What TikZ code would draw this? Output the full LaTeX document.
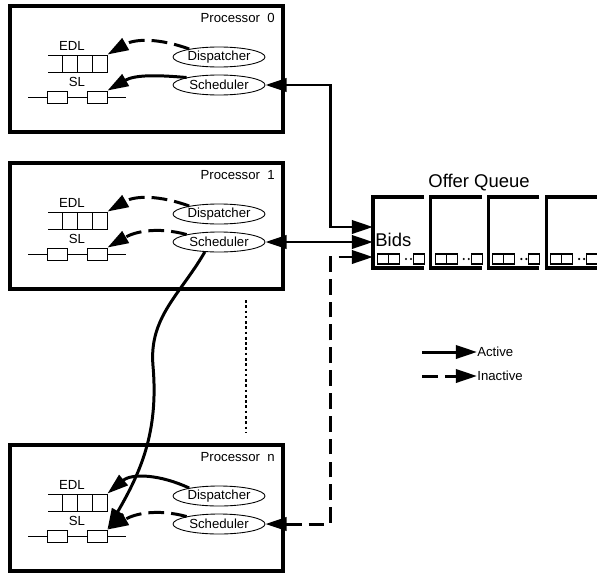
\documentclass[tikz,border=0pt]{standalone}
\usepackage{fontspec}
\setmainfont{Liberation Sans}
\usetikzlibrary{arrows.meta,shapes.geometric}

\begin{document}
\begin{tikzpicture}[x=0.02cm,y=0.02cm,
  >={Triangle[length=12pt,width=7.5pt]},
  procbox/.style={draw,line width=1.9pt,minimum width=5.46cm,minimum height=2.52cm,inner sep=0},
  lbl/.style={font=\fontsize{7.5}{9}\selectfont,inner sep=0},
  biglbl/.style={font=\fontsize{10.5}{12}\selectfont,inner sep=0},
  cell/.style={draw,line width=0.5pt,minimum width=0.3cm,minimum height=0.34cm,inner sep=0},
  slbox/.style={draw,fill=white,line width=0.5pt,minimum width=0.4cm,minimum height=0.24cm,inner sep=0},
  task/.style={ellipse,draw,line width=0.5pt,minimum width=1.84cm,minimum height=0.4cm,inner sep=0,font=\fontsize{7.5}{9}\selectfont},
  queueline/.style={line width=0.5pt},
  active/.style={line width=1.7pt},
  inactive/.style={line width=1.7pt,dash pattern=on 9pt off 4pt},
  slotline/.style={line width=1.8pt},
  mini/.style={draw,line width=0.6pt,minimum width=0.22cm,minimum height=0.2cm,inner sep=0},
  dotline/.style={line width=1.6pt,dash pattern=on 1.5pt off 1.5pt}]
\useasboundingbox (0,0) rectangle (597,576);

% processors
\foreach \t/\p in {570/0,413/1,131/n}{
  \node[procbox] (proc\p) at (146.5,\t-63) {};
  \node[lbl,anchor=east] (plab\p) at (275,\t-12) {Processor~~\p};
  \node[lbl] (edlt\p) at (72,\t-40) {EDL};
  \draw[queueline] (48,\t-49) -- (62,\t-49) (48,\t-66) -- (62,\t-66);
  \node[cell] (edla\p) at (69.5,\t-57.5) {};
  \node[cell] (edlb\p) at (84.5,\t-57.5) {};
  \node[cell] (edl\p) at (99.5,\t-57.5) {};
  \node[lbl] (slt\p) at (77,\t-76) {SL};
  \draw[queueline] (28,\t-91) -- (126,\t-91);
  \node[slbox] (sla\p) at (57,\t-91) {};
  \node[slbox] (slb\p) at (97,\t-91) {};
  \node[task] (disp\p) at (219,\t-51) {Dispatcher};
  \node[task] (sched\p) at (219,\t-79) {Scheduler};
}

\path[->]
(disp0.165) edge[inactive,out=160,in=30] (edl0.north east)
(sched0.167) edge[active,out=175,in=30] (slb0.north east)
(disp1.165) edge[inactive,out=160,in=30] (edl1.north east)
(sched1.167) edge[inactive,out=165,in=30] (slb1.north east)
(dispn.165) edge[active,out=155,in=40] (edln.north east)
(schedn.167) edge[inactive,out=165,in=30] (slbn.north east);

% offer queue
\node[biglbl] (oq) at (479,393) {Offer Queue};
\foreach \i in {0,...,3}{
  \pgfmathsetmacro\L{373+57.7*\i}
  \draw[slotline] (\L+51,379) -- (\L,379) -- (\L,308) -- (\L+51,308);
  \node[mini] (qa\i) at (\L+10,317) {};
  \node[mini] (qb\i) at (\L+21,317) {};
  \node[mini] (qc\i) at (\L+46,317) {};
  \fill (\L+33,317) circle (1.2) (\L+38,317) circle (1.2);
}
\node[biglbl,anchor=west] (bids) at (375,336) {Bids};
\coordinate (bid0) at (373,349);
\coordinate (bid1) at (373,334);
\coordinate (bid2) at (373,319);

\draw[active,<->] (sched0.east) -- ++(65,0) |- (bid0);
\draw[active,<->] (sched1.east) -- (bid1);
\draw[inactive,<->] (schedn.east) -- ++(65,0) |- (bid2);

\coordinate (sway) at (153,210);
\draw[active,->] (sched1.215) to[out=240,in=95] (sway) to[out=-85,in=60] (slbn.north east);

\coordinate (dotA) at (246,276);
\coordinate (dotB) at (246,143);
\draw[dotline] (dotA) -- (dotB);

% legend
\node[lbl,anchor=west] (lact) at (477,224) {Active};
\node[lbl,anchor=west] (linact) at (477,200) {Inactive};
\coordinate (lacts) at (422,224);
\coordinate (linacts) at (422,200);
\draw[active,->] (lacts) -- (lact.west);
\draw[inactive,->] (linacts) -- (linact.west);
\end{tikzpicture}
\end{document}
